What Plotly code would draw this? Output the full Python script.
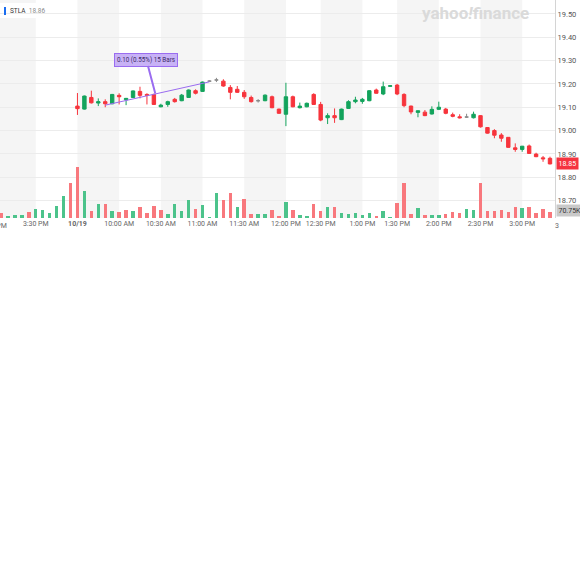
import plotly.graph_objects as go

# ---------------- data ----------------
bar_idx = list(range(80))  # 5-minute bars, 10/18 3:05 PM ... 10/19 3:20 PM

volume_k = [60, 26, 34, 37, 71, 98, 93, 60, 135, 247, 390, 569, 303, 79, 157, 157, 79, 64, 90, 82,
            120, 53, 135, 90, 45, 157, 82, 202, 101, 146, 11, 278, 199, 281, 120, 213, 45, 47, 45, 90,
            22, 183, 90, 39, 17, 159, 81, 118, 124, 60, 48, 60, 39, 54, 28, 82, 3, 172, 396, 42,
            109, 34, 34, 30, 42, 71, 56, 98, 90, 396, 79, 79, 93, 71, 120, 112, 124, 60, 101, 70.75]

volume_dir = ["d", "u", "u", "u", "d", "u", "u", "u", "u", "u", "d", "d", "u", "d", "u", "d", "u", "d", "d", "u",
              "d", "d", "d", "d", "u", "u", "u", "u", "d", "u", "u", "u", "d", "d", "u", "d", "d", "u", "u", "d",
              "d", "u", "d", "u", "u", "d", "d", "u", "d", "u", "u", "u", "u", "u", "d", "u", "u", "d", "d", "d",
              "u", "d", "u", "u", "d", "d", "d", "u", "u", "d", "d", "d", "d", "d", "d", "u", "d", "d", "d", "d"]

candle_idx = list(range(11, 80))
opens = [19.105, 19.092, 19.142, 19.118, 19.124, 19.115, 19.151, 19.132, 19.142, 19.168,
         19.155, 19.155, 19.102, 19.112, 19.134, 19.128, 19.142, 19.171, 19.168, 19.212,
         19.217, 19.212, 19.185, 19.177, 19.164, 19.142, 19.128, 19.128, 19.145, 19.092,
         19.070, 19.145, 19.098, 19.102, 19.155, 19.112, 19.055, 19.064, 19.047, 19.095,
         19.124, 19.125, 19.128, 19.174, 19.157, 19.190, 19.195, 19.155, 19.105, 19.078,
         19.079, 19.071, 19.091, 19.092, 19.068, 19.059, 19.058, 19.055, 19.064, 19.013,
         19.000, 18.981, 18.971, 18.926, 18.919, 18.934, 18.899, 18.883, 18.881]
highs = [19.161, 19.150, 19.171, 19.138, 19.134, 19.157, 19.160, 19.140, 19.172, 19.188,
         19.160, 19.158, 19.115, 19.128, 19.140, 19.157, 19.176, 19.177, 19.210, 19.215,
         19.226, 19.220, 19.195, 19.191, 19.174, 19.150, 19.135, 19.155, 19.150, 19.094,
         19.205, 19.150, 19.120, 19.120, 19.160, 19.123, 19.074, 19.095, 19.094, 19.130,
         19.145, 19.140, 19.173, 19.180, 19.210, 19.193, 19.200, 19.160, 19.107, 19.086,
         19.088, 19.104, 19.124, 19.097, 19.077, 19.070, 19.072, 19.081, 19.066, 19.014,
         19.006, 18.989, 18.972, 18.945, 18.934, 18.940, 18.905, 18.891, 18.888]
lows = [19.067, 19.090, 19.116, 19.105, 19.100, 19.113, 19.112, 19.109, 19.140, 19.138,
        19.112, 19.110, 19.100, 19.102, 19.120, 19.126, 19.140, 19.155, 19.166, 19.210,
        19.208, 19.188, 19.134, 19.162, 19.136, 19.120, 19.120, 19.126, 19.096, 19.072,
        19.019, 19.100, 19.095, 19.100, 19.110, 19.040, 19.028, 19.033, 19.045, 19.093,
        19.117, 19.115, 19.126, 19.158, 19.152, 19.189, 19.152, 19.100, 19.070, 19.057,
        19.062, 19.069, 19.088, 19.070, 19.057, 19.052, 19.055, 19.052, 19.013, 18.987,
        18.967, 18.952, 18.926, 18.909, 18.909, 18.900, 18.886, 18.866, 18.855]
closes = [19.094, 19.148, 19.119, 19.124, 19.115, 19.155, 19.145, 19.138, 19.170, 19.151,
          19.151, 19.112, 19.109, 19.124, 19.124, 19.152, 19.174, 19.160, 19.208, 19.212,
          19.217, 19.191, 19.164, 19.164, 19.145, 19.124, 19.128, 19.152, 19.098, 19.074,
          19.145, 19.102, 19.105, 19.117, 19.112, 19.045, 19.064, 19.055, 19.092, 19.124,
          19.131, 19.134, 19.171, 19.160, 19.188, 19.192, 19.157, 19.107, 19.080, 19.085,
          19.064, 19.091, 19.100, 19.074, 19.061, 19.055, 19.058, 19.070, 19.016, 18.989,
          18.980, 18.967, 18.928, 18.919, 18.933, 18.902, 18.888, 18.879, 18.857]

tick_idx = [5, 11, 17, 23, 29, 35, 41, 46, 52, 57, 63, 69, 75]
tick_txt = ["3:30 PM", "<b>10/19</b>", "10:00 AM", "10:30 AM", "11:00 AM", "11:30 AM", "12:00 PM",
            "12:30 PM", "1:00 PM", "1:30 PM", "2:00 PM", "2:30 PM", "3:00 PM"]
edge_tick_idx = [-1, 81]
edge_tick_txt = ["3:00 PM", "3:30 PM"]
price_ticks = [18.70, 18.80, 18.90, 19.00, 19.10, 19.20, 19.30, 19.40, 19.50]

symbol = "STLA"
legend_price = "18.86"
last_price_label = "18.85"
last_volume_label = "70.75K"
measure_start = (15, 19.109)
measure_end = (30, 19.209)
measure_text = "0.10 (0.55%) 15 Bars"

# ---------------- styling ----------------
W, H = 580, 580
PLOT_W, PLOT_H = 555, 218
X_RANGE = [-0.144, 79.72]
GREEN, RED, GRAY = "#13a35c", "#f7343c", "#8a8a8a"
VGREEN, VRED = "#4cc38b", "#f8787d"
PURPLE = "#9a6cf0"
FONT = "Roboto, Liberation Sans, Arial, sans-serif"

fig = go.Figure()

# volume
fig.add_trace(go.Bar(
    x=bar_idx, y=[v * 1000 for v in volume_k],
    marker=dict(color=[VGREEN if d == "u" else VRED for d in volume_dir], line=dict(width=0)),
    width=0.5, yaxis="y2", hoverinfo="skip"))

# candles split by direction
groups = {"up": ([], [], [], [], []), "down": ([], [], [], [], []), "flat": ([], [], [], [], [])}
for i, o, h, l, c in zip(candle_idx, opens, highs, lows, closes):
    key = "up" if c > o else ("down" if c < o else "flat")
    g = groups[key]
    g[0].append(i); g[1].append(o); g[2].append(h); g[3].append(l); g[4].append(c)
colors = {"up": GREEN, "down": RED, "flat": GRAY}
for key, (xs, os_, hs, ls, cs) in groups.items():
    col = colors[key]
    fig.add_trace(go.Candlestick(
        x=xs, open=os_, high=hs, low=ls, close=cs,
        increasing=dict(line=dict(color=col, width=1), fillcolor=col),
        decreasing=dict(line=dict(color=col, width=1), fillcolor=col),
        hoverinfo="skip"))

# time bands
bounds = [edge_tick_idx[0]] + tick_idx + [edge_tick_idx[1]]
shapes = []
for k in range(len(bounds) - 1):
    if k % 2 == 0:
        shapes.append(dict(type="rect", xref="x", yref="paper", x0=bounds[k], x1=bounds[k + 1],
                           y0=0, y1=1, fillcolor="#f5f5f5", line=dict(width=0), layer="below"))

def px_x(p):
    return p / PLOT_W

def px_y(p):
    return 1 - p / PLOT_H

def data_to_paper_x(v):
    return (v - X_RANGE[0]) / (X_RANGE[1] - X_RANGE[0])

shapes.append(dict(type="rect", xref="paper", yref="paper", x0=px_x(0), x1=px_x(39), y0=px_y(18), y1=px_y(3),
                   fillcolor="white", line=dict(width=0), layer="between"))
shapes.append(dict(type="rect", xref="paper", yref="paper", x0=px_x(4), x1=px_x(6), y0=px_y(15), y1=px_y(7),
                   fillcolor="#1a6df0", line=dict(width=0), layer="above"))
# measurement line
shapes.append(dict(type="line", xref="x", yref="y", x0=measure_start[0], y0=measure_start[1],
                   x1=measure_end[0], y1=measure_end[1], line=dict(color=PURPLE, width=1), layer="above"))

mid_x = (measure_start[0] + measure_end[0]) / 2 - 0.3
mid_y = (measure_start[1] + measure_end[1]) / 2

annotations = [
    dict(xref="paper", yref="paper", x=px_x(8), y=px_y(11), xanchor="left", yanchor="middle",
         text=f'<span style="color:#333">{symbol}</span>  <span style="color:#8a8a8a">{legend_price}</span>',
         showarrow=False, font=dict(size=6.5, family=FONT)),
    dict(xref="paper", yref="paper", x=px_x(475), y=px_y(12.5), xanchor="center", yanchor="middle",
         text="<b>yahoo<i>!</i>finance</b>", showarrow=False,
         font=dict(size=17, family=FONT, color="#dadada")),
    dict(xref="paper", yref="y", x=1, y=closes[-1], xanchor="left", yanchor="middle", xshift=1,
         text=last_price_label, showarrow=False, bgcolor="#f5333f", borderpad=1.5,
         font=dict(size=7, family=FONT, color="white")),
    dict(xref="paper", yref="y2", x=1, y=volume_k[-1] * 1000, xanchor="left", yanchor="middle", xshift=1,
         yshift=1.5, text=last_volume_label, showarrow=False, bgcolor="#c9c9c9", borderpad=1.5,
         font=dict(size=7, family=FONT, color="#333")),
    # partially visible edge tick labels
    dict(xref="paper", yref="paper", x=data_to_paper_x(edge_tick_idx[0]), y=0, xanchor="center",
         yanchor="top", yshift=-2, text=edge_tick_txt[0], showarrow=False,
         font=dict(size=7, family=FONT, color="#666")),
    dict(xref="paper", yref="paper", x=1, y=0, xanchor="left", yanchor="top", yshift=-2, xshift=-2,
         text=edge_tick_txt[1][0], showarrow=False, font=dict(size=7, family=FONT, color="#666")),
    dict(xref="x", yref="y", x=mid_x, y=mid_y, ax=-9, ay=-34, text=measure_text, showarrow=True,
         arrowhead=0, arrowwidth=2, arrowcolor=PURPLE, standoff=0,
         bgcolor="#c8b2f6", bordercolor=PURPLE, borderwidth=1, borderpad=2,
         font=dict(size=6.3, family=FONT, color="#3b2a66")),
]

fig.update_layout(
    width=W, height=H,
    margin=dict(l=0, r=W - PLOT_W, t=0, b=H - PLOT_H, autoexpand=False),
    paper_bgcolor="white", plot_bgcolor="white",
    showlegend=False, bargap=0, boxgap=0.3,
    shapes=shapes, annotations=annotations,
    font=dict(family=FONT, size=7, color="#666"),
    xaxis=dict(range=X_RANGE, tickvals=tick_idx, ticktext=tick_txt, showgrid=False,
               zeroline=False, showline=False, ticks="", rangeslider=dict(visible=False),
               tickfont=dict(size=7, color="#666"), automargin=False, fixedrange=True),
    yaxis=dict(side="right", range=[18.625, 19.56], tickvals=price_ticks,
               ticktext=[f"{p:.2f}" for p in price_ticks], showgrid=True, gridcolor="#ececec",
               gridwidth=1, zeroline=False, showline=True, linecolor="#d4d4d4", linewidth=1,
               ticks="", tickfont=dict(size=7.5, color="#555"), automargin=False),
    yaxis2=dict(overlaying="y", range=[0, 2448000], visible=False, showgrid=False),
)

fig.write_html("out.html", config={"displayModeBar": False},
               post_script="document.body.style.margin='0';document.body.style.padding='0';")
